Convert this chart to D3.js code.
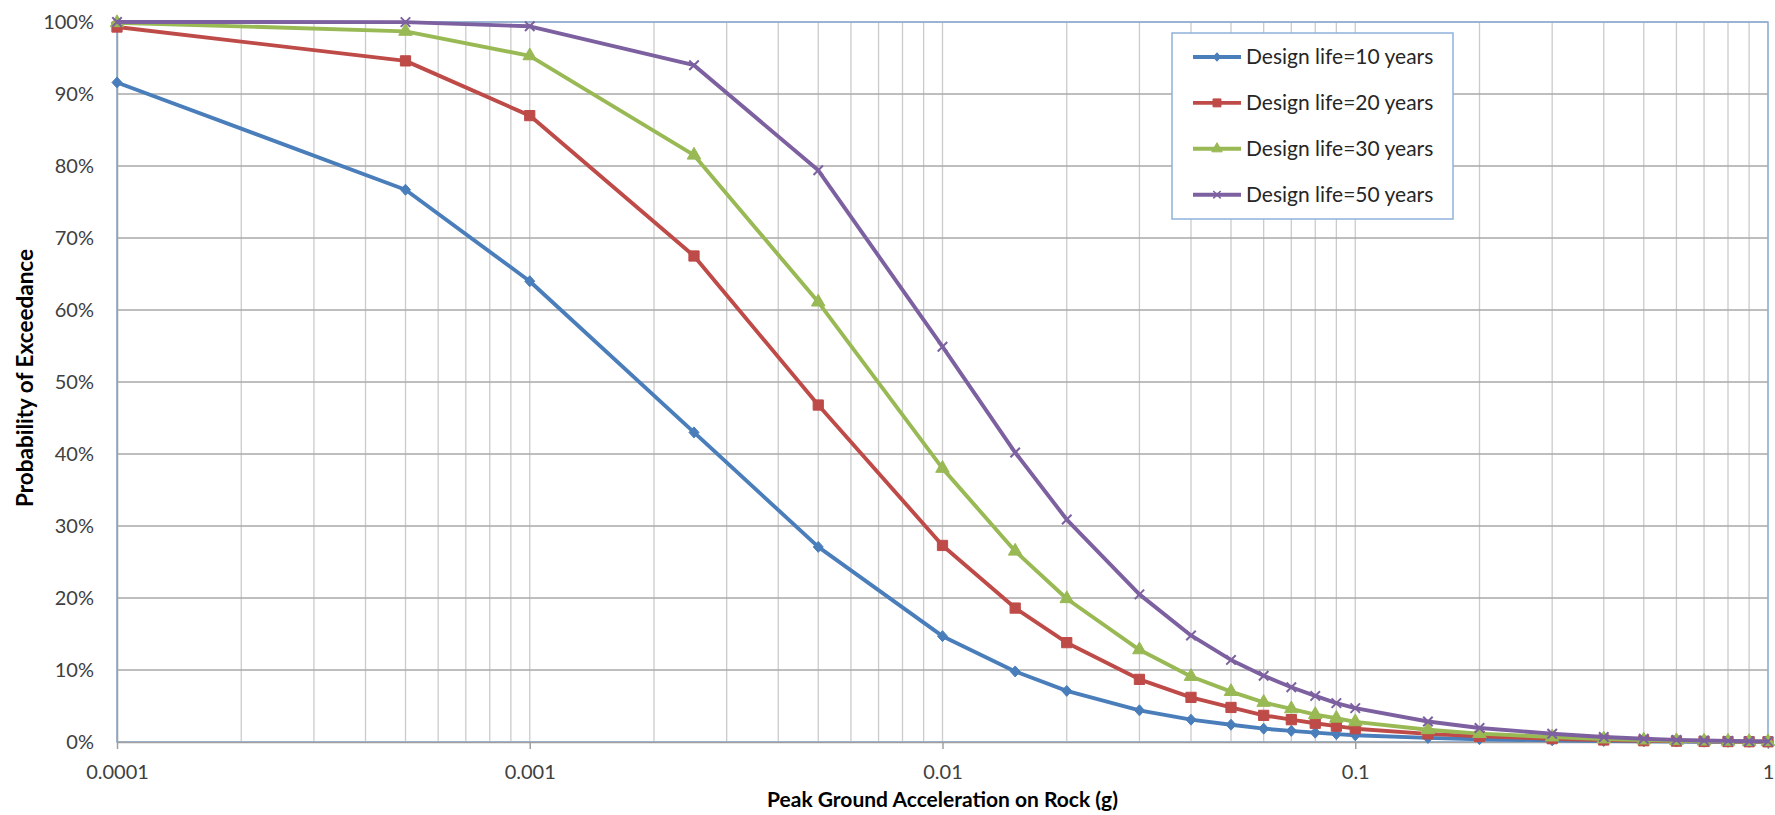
<!doctype html>
<html lang="en">
<head>
  <meta charset="utf-8">
  <title>Probability of Exceedance</title>
  <style>
    body { margin: 0; background: #fff; }
    svg { display: block; font-family: Lato, "Open Sans", sans-serif; }
    .tick-label { fill: #404040; font-size: 20px; }
    .axis-title { fill: #000; font-size: 21px; font-weight: bold; }
    .legend-label { fill: #262626; font-size: 21px; }
  </style>
</head>
<body>
<div id="chart"></div>

<script src="https://d3js.org/d3.v7.min.js"></script>
<script>
  // peak ground acceleration (g)
  const pga = [0.0001, 0.0005, 0.001, 0.0025, 0.005, 0.01, 0.015, 0.02, 0.03, 0.04, 0.05,
    0.06, 0.07, 0.08, 0.09, 0.1, 0.15, 0.2, 0.3, 0.4, 0.5, 0.6, 0.7, 0.8, 0.9, 1.0];

  // probability of exceedance (%) for each design life
  const life10 = [91.6, 76.7, 64.0, 43.0, 27.1, 14.7, 9.8, 7.1, 4.4, 3.1, 2.4,
    1.85, 1.55, 1.3, 1.1, 0.93, 0.57, 0.39, 0.23, 0.14, 0.09, 0.06, 0.04, 0.03, 0.02, 0.016];
  const life20 = [99.3, 94.6, 87.0, 67.5, 46.8, 27.3, 18.6, 13.8, 8.7, 6.2, 4.8,
    3.7, 3.1, 2.6, 2.2, 1.85, 1.13, 0.78, 0.46, 0.28, 0.18, 0.12, 0.08, 0.06, 0.04, 0.03];
  const life30 = [99.9, 98.7, 95.3, 81.5, 61.1, 38.0, 26.5, 19.9, 12.8, 9.1, 7.0,
    5.5, 4.6, 3.8, 3.3, 2.8, 1.7, 1.17, 0.69, 0.42, 0.27, 0.18, 0.12, 0.09, 0.06, 0.05];
  const life50 = [100.0, 99.98, 99.4, 94.0, 79.4, 54.9, 40.2, 30.9, 20.5, 14.8, 11.4,
    9.2, 7.6, 6.4, 5.4, 4.7, 2.85, 1.95, 1.15, 0.7, 0.45, 0.3, 0.2, 0.15, 0.1, 0.08];

  const seriesNames = ['Design life=10 years', 'Design life=20 years', 'Design life=30 years', 'Design life=50 years'];
  const xTickValues = [0.0001, 0.001, 0.01, 0.1, 1];
  const xTickLabels = ['0.0001', '0.001', '0.01', '0.1', '1'];
  const yTickValues = [0, 10, 20, 30, 40, 50, 60, 70, 80, 90, 100];

  // styling
  const colors = ['#4A7EBB', '#BE4B48', '#98B954', '#7D60A0'];

  const width = 1775, height = 815;
  const margin = { top: 22, right: 7, bottom: 73, left: 117 };

  const svg = d3.select('#chart').append('svg')
    .attr('width', width)
    .attr('height', height);

  const x = d3.scaleLog()
    .domain([0.0001, 1])
    .range([margin.left, width - margin.right]);

  const y = d3.scaleLinear()
    .domain([0, 100])
    .range([height - margin.bottom, margin.top]);

  // custom marker shapes (Excel style)
  const diamond = {
    draw(ctx, size) {
      const r = Math.sqrt(size) / 2;
      ctx.moveTo(0, -r * 1.1); ctx.lineTo(r, 0); ctx.lineTo(0, r * 1.1); ctx.lineTo(-r, 0); ctx.closePath();
    }
  };
  const cross = {
    draw(ctx, size) {
      const r = Math.sqrt(size) / 2;
      ctx.moveTo(-r, -r); ctx.lineTo(r, r);
      ctx.moveTo(r, -r); ctx.lineTo(-r, r);
    }
  };
  const markers = [
    { type: diamond, size: 100, filled: true },
    { type: d3.symbolSquare, size: 105, filled: true },
    { type: d3.symbolTriangle, size: 80, filled: true },
    { type: cross, size: 90, filled: false }
  ];

  // vertical gridlines (every 1..9 per decade)
  svg.append('g')
    .selectAll('line')
    .data(x.ticks())
    .join('line')
    .attr('x1', d => x(d)).attr('x2', d => x(d))
    .attr('y1', y(100)).attr('y2', y(0))
    .attr('stroke', '#CBCBCB')
    .attr('stroke-width', 1.3);

  // horizontal gridlines
  svg.append('g')
    .selectAll('line')
    .data(yTickValues)
    .join('line')
    .attr('x1', x(0.0001)).attr('x2', x(1))
    .attr('y1', d => y(d)).attr('y2', d => y(d))
    .attr('stroke', '#A8A8A8')
    .attr('stroke-width', 1.5);

  // plot area border
  svg.append('rect')
    .attr('x', x(0.0001)).attr('y', y(100))
    .attr('width', x(1) - x(0.0001)).attr('height', y(0) - y(100))
    .attr('fill', 'none')
    .attr('stroke', '#8EB2DC')
    .attr('stroke-width', 1.5);

  // x axis
  const xAxis = svg.append('g')
    .attr('transform', `translate(0,${y(0)})`)
    .call(d3.axisBottom(x)
      .tickValues(xTickValues)
      .tickFormat((d, i) => xTickLabels[i])
      .tickSizeInner(7).tickSizeOuter(0).tickPadding(16));
  xAxis.select('.domain').attr('stroke', '#A0A0A0').attr('stroke-width', 1.5);
  xAxis.selectAll('.tick line').attr('stroke', '#A0A0A0').attr('stroke-width', 1.5);
  xAxis.selectAll('.tick text').attr('class', 'tick-label');
  xAxis.attr('font-size', null).attr('font-family', null);

  // y axis
  const yAxis = svg.append('g')
    .attr('transform', `translate(${x(0.0001)},0)`)
    .call(d3.axisLeft(y)
      .tickValues(yTickValues)
      .tickFormat(d => d + '%')
      .tickSize(0).tickPadding(23));
  yAxis.select('.domain').attr('stroke', '#A0A0A0').attr('stroke-width', 1.5);
  yAxis.selectAll('.tick text').attr('class', 'tick-label');
  yAxis.attr('font-size', null).attr('font-family', null);

  // axis titles
  svg.append('text')
    .attr('class', 'axis-title')
    .attr('x', (x(0.0001) + x(1)) / 2)
    .attr('y', 807)
    .attr('text-anchor', 'middle')
    .text('Peak Ground Acceleration on Rock (g)');

  svg.append('text')
    .attr('class', 'axis-title')
    .style('font-size', '22.5px')
    .attr('transform', `translate(33,${(y(0) + y(100)) / 2 - 4}) rotate(-90)`)
    .attr('text-anchor', 'middle')
    .text('Probability of Exceedance');

  // series
  const series = [life10, life20, life30, life50].map((vals, i) => ({
    name: seriesNames[i],
    color: colors[i],
    marker: markers[i],
    points: pga.map((g, j) => ({ g, p: vals[j] }))
  }));

  const line = d3.line()
    .x(d => x(d.g))
    .y(d => y(d.p));

  const seriesG = svg.append('g')
    .selectAll('g')
    .data(series)
    .join('g');

  seriesG.append('path')
    .attr('d', d => line(d.points))
    .attr('fill', 'none')
    .attr('stroke', d => d.color)
    .attr('stroke-width', 3.9)
    .attr('stroke-linejoin', 'round');

  seriesG.each(function (s) {
    const sym = d3.symbol().type(s.marker.type).size(s.marker.size);
    d3.select(this).selectAll('.marker')
      .data(s.points)
      .join('path')
      .attr('class', 'marker')
      .attr('transform', d => `translate(${x(d.g)},${y(d.p)})`)
      .attr('d', sym)
      .attr('fill', s.marker.filled ? s.color : 'none')
      .attr('stroke', s.color)
      .attr('stroke-width', s.marker.filled ? 1 : 2);
  });

  // legend
  const legend = svg.append('g').attr('transform', 'translate(1172,33)');
  legend.append('rect')
    .attr('width', 281).attr('height', 186)
    .attr('fill', '#fff')
    .attr('stroke', '#8EB2DC')
    .attr('stroke-width', 1.5);

  const item = legend.selectAll('.item')
    .data(series)
    .join('g')
    .attr('class', 'item')
    .attr('transform', (d, i) => `translate(0,${24 + i * 45.9})`);

  item.append('line')
    .attr('x1', 21).attr('x2', 69)
    .attr('stroke', d => d.color)
    .attr('stroke-width', 3.9);

  item.append('path')
    .attr('transform', 'translate(45,0)')
    .attr('d', d => d3.symbol().type(d.marker.type).size(d.marker.size * 0.6)())
    .attr('fill', d => d.marker.filled ? d.color : 'none')
    .attr('stroke', d => d.color)
    .attr('stroke-width', d => d.marker.filled ? 1 : 1.5);

  item.append('text')
    .attr('class', 'legend-label')
    .attr('x', 74)
    .attr('dy', '0.35em')
    .text(d => d.name);
</script>
</body>
</html>
